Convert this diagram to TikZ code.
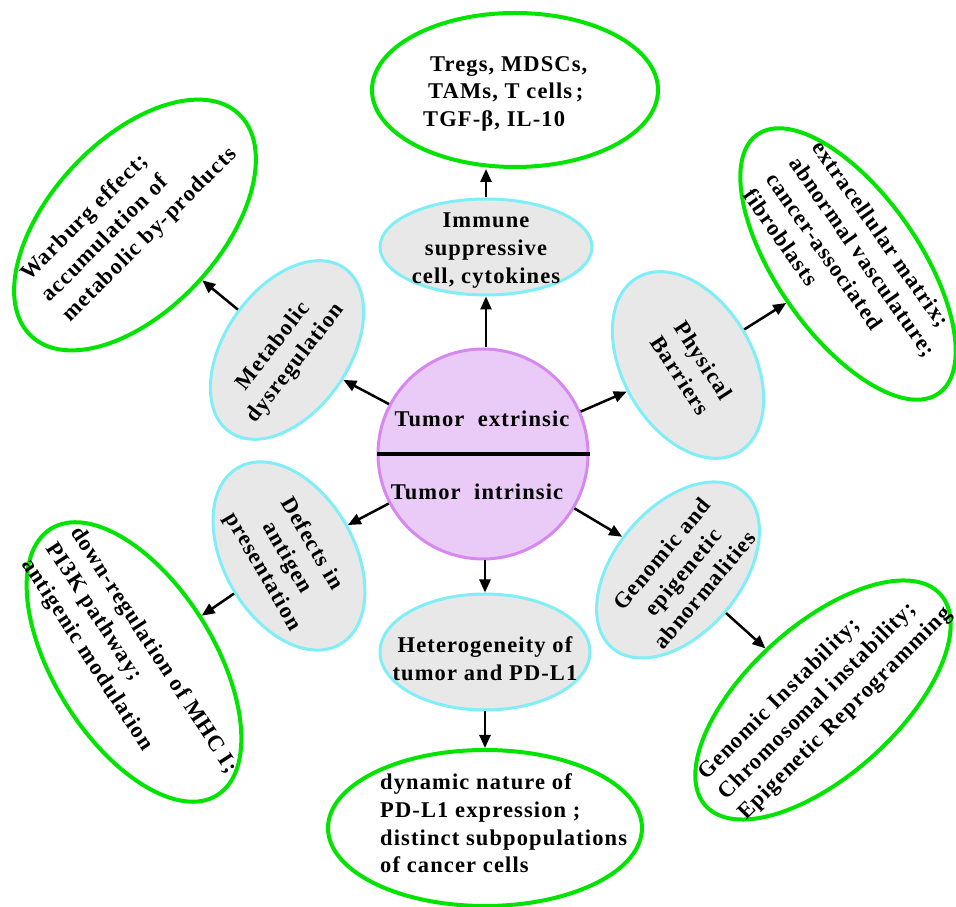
\documentclass[tikz,border=0pt]{standalone}
\usepackage{fontspec}
\setmainfont{Liberation Serif}[LetterSpace=5, Ligatures=NoCommon]
\usetikzlibrary{shapes.geometric,arrows.meta}
\definecolor{greenc}{RGB}{0,228,0}
\definecolor{cyanc}{RGB}{128,238,246}
\definecolor{grayc}{RGB}{232,232,232}
\definecolor{purpfill}{RGB}{234,202,246}
\definecolor{purpline}{RGB}{214,136,240}
\begin{document}
\begin{tikzpicture}[x=1pt,y=1pt,
 txt/.style={font=\fontsize{22.5}{28}\selectfont\bfseries, inner sep=0pt},
 gell/.style={ellipse, draw=cyanc, fill=grayc, line width=3pt, inner sep=0pt},
 grell/.style={ellipse, draw=greenc, fill=white, line width=4pt, inner sep=0pt},
 arr/.style={line width=2.5pt, -{Triangle[length=13pt,width=11pt]}}]
\useasboundingbox (0,0) rectangle (956,907);

% centre
\node[circle, draw=purpline, fill=purpfill, line width=3pt, minimum size=210pt, inner sep=0pt] (C) at (483,453) {};
\draw[line width=4pt] (C.west) -- (C.east);
\node[txt, anchor=base] (Cext) at (482,480) {Tumor\ \ extrinsic};
\node[txt, anchor=base] (Cint) at (477,407) {Tumor\ \ intrinsic};

% grey ellipses
\node[gell, minimum width=212pt, minimum height=96pt] (IM) at (486,660) {};
\node[gell, minimum width=200pt, minimum height=124pt, rotate=55] (MD) at (287,557) {};
\node[gell, minimum width=202pt, minimum height=130pt, rotate=-60] (PB) at (688,542) {};
\node[gell, minimum width=204pt, minimum height=126pt, rotate=50] (GA) at (678,337) {};
\node[gell, minimum width=210pt, minimum height=116pt] (HT) at (485,255) {};
\node[gell, minimum width=204pt, minimum height=130pt, rotate=-60] (DA) at (289,351) {};

\node[txt, align=center] (IMt) at (486,656) {Immune\\suppressive\\cell, cytokines};
\node[txt, align=center, rotate=52] (MDt) at (285,552) {Metabolic\\dysregulation};
\node[txt, align=center, rotate=-57] (PBt) at (692,539) {Physical\\Barriers};
\node[txt, align=center, rotate=50] (GAt) at (683,335) {Genomic and\\epigenetic\\abnormalities};
\node[txt, align=center] (HTt) at (485,248) {Heterogeneity of\\tumor and PD-L1};
\node[txt, align=center, rotate=-60] (DAt) at (287,349) {Defects in\\antigen\\presentation};

% green ellipses
\node[grell, minimum width=286pt, minimum height=154pt] (T1) at (515,817) {};
\node[grell, minimum width=304pt, minimum height=170pt, rotate=47] (WB) at (135,682) {};
\node[grell, minimum width=316pt, minimum height=142pt, rotate=-55] (EX) at (848,643) {};
\node[grell, minimum width=316pt, minimum height=150pt, rotate=42] (GI) at (823,207) {};
\node[grell, minimum width=314pt, minimum height=160pt, rotate=-58] (DR) at (134,245) {};
\node[grell, minimum width=314pt, minimum height=156pt] (BG) at (485,79) {};

% green texts
\node[txt, anchor=base west] (T1a) at (430,835) {Tregs, MDSCs,};
\node[txt, anchor=base west] (T1b) at (428,808) {TAMs, T cells\,;};
\node[txt, anchor=base west] (T1c) at (423,780) {TGF-β, IL-10};

\node[txt, anchor=base west, rotate=45] (WBa) at (29,625) {Warburg effect;};
\node[txt, anchor=base west, rotate=45] (WBb) at (49.5,604) {accumulation of};
\node[txt, anchor=base west, rotate=45] (WBc) at (70,584) {metabolic by-products};

\node[txt, anchor=base west, rotate=-55] (EXa) at (811,760) {extracellular matrix;};
\node[txt, anchor=base west, rotate=-55] (EXb) at (788,744) {abnormal vasculature;};
\node[txt, anchor=base west, rotate=-55] (EXc) at (765,728) {cancer-associated};
\node[txt, anchor=base west, rotate=-55] (EXd) at (742,712) {fibroblasts};

\node[txt, anchor=base west, rotate=45] (GIa) at (706,126) {Genomic Instability;};
\node[txt, anchor=base west, rotate=45] (GIb) at (726,106) {Chromosomal instability;};
\node[txt, anchor=base west, rotate=45] (GIc) at (746,86) {Epigenetic Reprogramming};

\node[txt, anchor=base west, rotate=-57] (DRa) at (70,375) {down-regulation of MHC I;};
\node[txt, anchor=base west, rotate=-57] (DRb) at (45.7,359) {PI3K pathway;};
\node[txt, anchor=base west, rotate=-57] (DRc) at (21.4,343) {antigenic modulation};

\node[txt, anchor=base west] (BGa) at (380,117) {dynamic nature of};
\node[txt, anchor=base west] (BGb) at (380,89) {PD-L1 expression ;};
\node[txt, anchor=base west] (BGc) at (380,61) {distinct subpopulations};
\node[txt, anchor=base west] (BGd) at (380,34) {of cancer cells};

% arrows
\draw[arr] (IM.south |- C.north) -- (IM.south);
\draw[arr] (IM.north) -- (IM.north |- T1.south);
\draw[arr] (C) -- (MD);
\draw[arr] (MD) -- (WB);
\draw[arr] (C) -- (PB);
\draw[arr] (PB) -- (EX);
\draw[arr] (C) -- (GA);
\draw[arr] (GA) -- (GI);
\draw[arr] (HT.north |- C.south) -- (HT.north);
\draw[arr] (HT.south) -- (HT.south |- BG.north);
\draw[arr] (C) -- (DA);
\draw[arr] (DA) -- (DR);
\end{tikzpicture}
\end{document}
